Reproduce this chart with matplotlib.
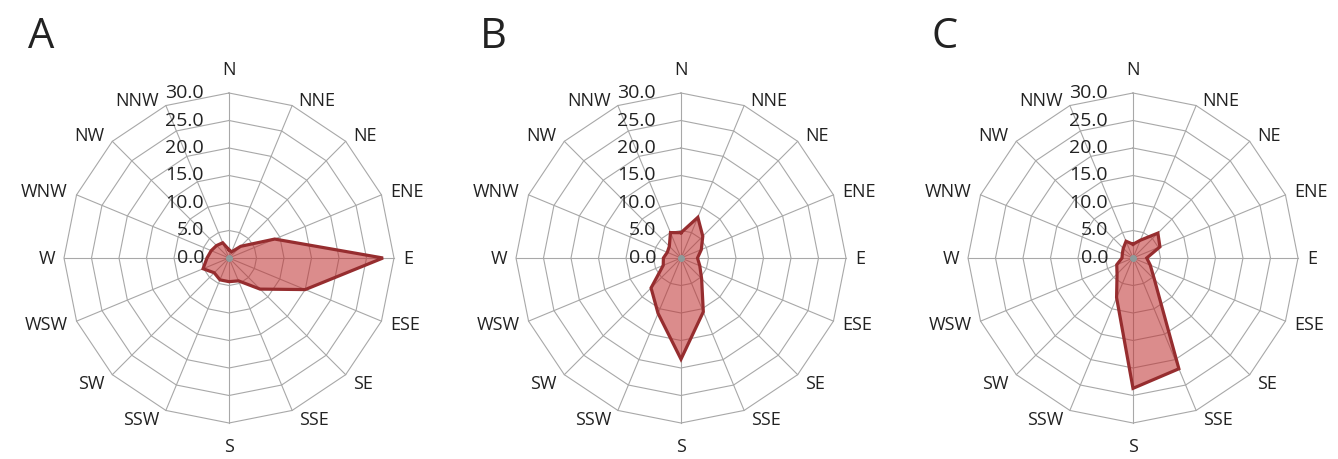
import numpy as np
import matplotlib
matplotlib.use("Agg")
import matplotlib.pyplot as plt

plt.rcParams['font.family'] = ['Open Sans', 'DejaVu Sans']

directions = ["N", "NNE", "NE", "ENE", "E", "ESE", "SE", "SSE",
              "S", "SSW", "SW", "WSW", "W", "WNW", "NW", "NNW"]
ring_values = [0, 5, 10, 15, 20, 25, 30]
ring_labels = ["0.0", "5.0", "10.0", "15.0", "20.0", "25.0", "30.0"]
panel_names = ["A", "B", "C"]

values_A = [1.5, 1.2, 3.0, 9.0, 28.0, 15.0, 8.0, 4.5, 4.3, 4.3, 3.8, 5.1, 4.0, 3.5, 3.2, 3.0]
values_B = [4.6, 8.0, 5.6, 4.0, 3.0, 3.7, 5.3, 10.6, 18.4, 10.9, 7.7, 3.5, 3.2, 2.7, 3.0, 5.0]
values_C = [2.5, 3.5, 6.4, 5.3, 2.5, 3.4, 5.5, 21.8, 23.7, 7.8, 4.1, 3.2, 2.0, 2.1, 2.5, 3.3]
all_values = [values_A, values_B, values_C]

W, H = 1338, 459
fig = plt.figure(figsize=(W / 100, H / 100), dpi=100)

centers_x = [229, 681, 1133]
center_y = 258
rmax_px = 165.0
rmax = 30.0
scale = rmax_px / rmax  # px per unit
half_px = 200
lim = half_px / scale

theta = np.deg2rad(90 - np.arange(len(directions)) * 22.5)
cos_t, sin_t = np.cos(theta), np.sin(theta)

grid_col = "#A8A8A8"
fill_col = (0.75, 0.18, 0.18)
edge_col = "#962D2F"
text_col = "#222222"


def px(v):
    return v / scale


for k, (cx, vals, name) in enumerate(zip(centers_x, all_values, panel_names)):
    ax = fig.add_axes([(cx - half_px) / W, (H - center_y - half_px) / H,
                       2 * half_px / W, 2 * half_px / H])
    ax.set_xlim(-lim, lim)
    ax.set_ylim(-lim, lim)
    ax.set_aspect('equal')
    ax.axis('off')

    # polygon rings
    for rv in ring_values[1:]:
        xs = np.append(rv * cos_t, rv * cos_t[0])
        ys = np.append(rv * sin_t, rv * sin_t[0])
        ax.plot(xs, ys, color=grid_col, lw=0.8, zorder=1)
    # spokes
    for c, s in zip(cos_t, sin_t):
        ax.plot([0, rmax * c], [0, rmax * s], color=grid_col, lw=0.8, zorder=1)

    v = np.array(vals)
    xs = np.append(v * cos_t, v[0] * cos_t[0])
    ys = np.append(v * sin_t, v[0] * sin_t[0])
    ax.fill(xs, ys, color=fill_col, alpha=0.55, lw=0, zorder=2)
    ax.plot(xs, ys, color=edge_col, lw=2.3, zorder=3, solid_joinstyle='miter')
    ax.plot([0], [0], 'o', color="#8E9A9A", ms=4, zorder=4)

    # radial tick labels
    for rv, lab in zip(ring_values, ring_labels):
        ax.text(-px(25), rv, lab, ha='right', va='center',
                fontsize=14, color=text_col, zorder=5, clip_on=False)

    # direction labels anchored at the outer polygon vertices
    for d, c, s in zip(directions, cos_t, sin_t):
        vx, vy = rmax * c, rmax * s
        if abs(c) < 0.1:
            ha, x = 'center', vx
        else:
            gap = 5 + 4 * abs(c)
            ha = 'left' if c > 0 else 'right'
            x = vx + np.sign(c) * px(gap)
        if s > 0.5:
            va = 'baseline'
            y = vy + (px(18) if s > 0.99 else 0)
        elif s < -0.5:
            va = 'top'
            y = vy - (px(15) if s < -0.99 else px(0.5))
        else:
            va = 'center_baseline'
            y = vy + px(1.5 + 8 * s)
        ax.text(x, y, d, ha=ha, va=va, fontsize=13, color=text_col,
                clip_on=False)

    fig.text((cx - 201) / W, (H - 48) / H, name, fontsize=30, color=text_col,
             ha='left', va='baseline')

fig.savefig("out.png", dpi=100)
